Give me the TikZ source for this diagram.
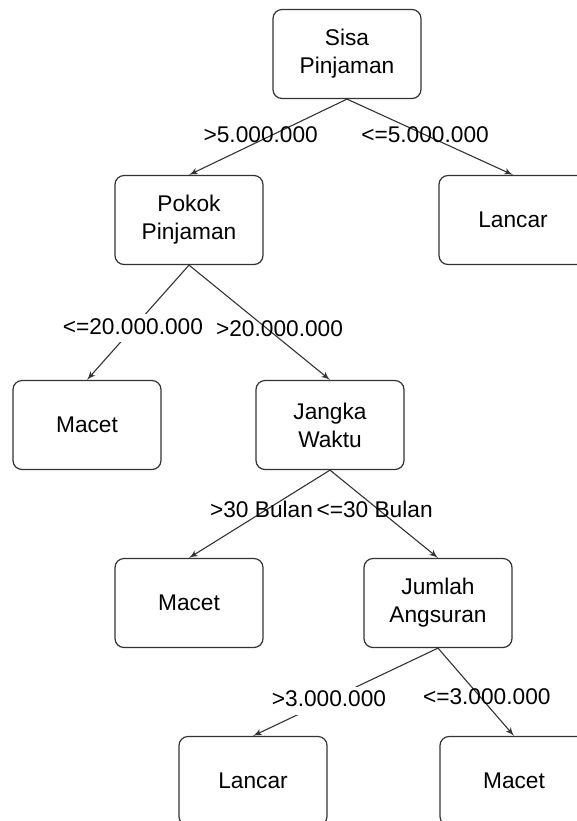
\documentclass[tikz,border=0pt]{standalone}
\usepackage{fontspec}
\setmainfont{Liberation Sans}
\usetikzlibrary{positioning}
\usetikzlibrary{shapes,arrows}
\tikzstyle{block} = [rectangle, draw=black!80, line width=0.6pt, fill=white,
text width=68pt, text centered, inner sep=3pt, rounded corners=4.5pt, minimum height=44.5pt,
font=\fontsize{11.35}{14}\selectfont]
\tikzstyle{line} = [draw=black!80, line width=0.55pt, -latex']
\tikzstyle{cond} = [font=\fontsize{11.35}{14}\selectfont, inner sep=1pt]
\tikzstyle{condw} = [cond, fill=white, text height=0.9em, text depth=0.3em]

\begin{document}
\begin{tikzpicture}
\useasboundingbox (0,0) rectangle (288.5pt,-410.5pt);
    % nodes
\node [block] (sp) at (173.5pt,-27pt) {Sisa\\Pinjaman};
\node [block, below of=sp, node distance=83pt, xshift=-79pt] (pp) {Pokok\\Pinjaman};
\node [block, below of=sp, node distance=83pt, xshift=83pt] (lnc1) {Lancar};
\node [block, below of=pp, node distance=102.5pt, xshift=-51pt] (mct1) {Macet};
\node [block, below of=pp, node distance=102.5pt, xshift=70.5pt] (jw) {Jangka\\Waktu};
\node [block, below of=jw, node distance=89pt, xshift=-70.5pt] (mct2) {Macet};
\node [block, below of=jw, node distance=89pt, xshift=54pt] (ja) {Jumlah\\Angsuran};
\node [block, below of=ja, node distance=89pt, xshift=-92.5pt] (lnc2) {Lancar};
\node [block, below of=ja, node distance=89pt, xshift=38pt] (mct3) {Macet};

%edges
\path [line] (sp.south) -- node[cond, pos=0.47, xshift=-6pt] (c1) {>5.000.000} (pp.north);
\path [line] (sp.south) -- node[cond, pos=0.47] (c2) {<=5.000.000} (lnc1.north);
\path [line] (pp.south) -- node[condw, pos=0.55] (c3) {<=20.000.000} (mct1.north);
\path [line] (pp.south) -- node[cond, pos=0.55, xshift=6.5pt] (c4) {>20.000.000} (jw.north);
\path [line] (jw.south) -- node[cond, pos=0.45, xshift=-2.5pt] (c5) {>30 Bulan} (mct2.north);
\path [line] (jw.south) -- node[cond, pos=0.45, xshift=-2pt] (c6) {<=30 Bulan} (ja.north);
\path [line] (ja.south) -- node[condw, pos=0.6, xshift=1pt] (c7) {>3.000.000} (lnc2.north);
\path [line] (ja.south) -- node[cond, pos=0.55, xshift=3.5pt] (c8) {<=3.000.000} (mct3.north);

\end{tikzpicture}
\end{document}
